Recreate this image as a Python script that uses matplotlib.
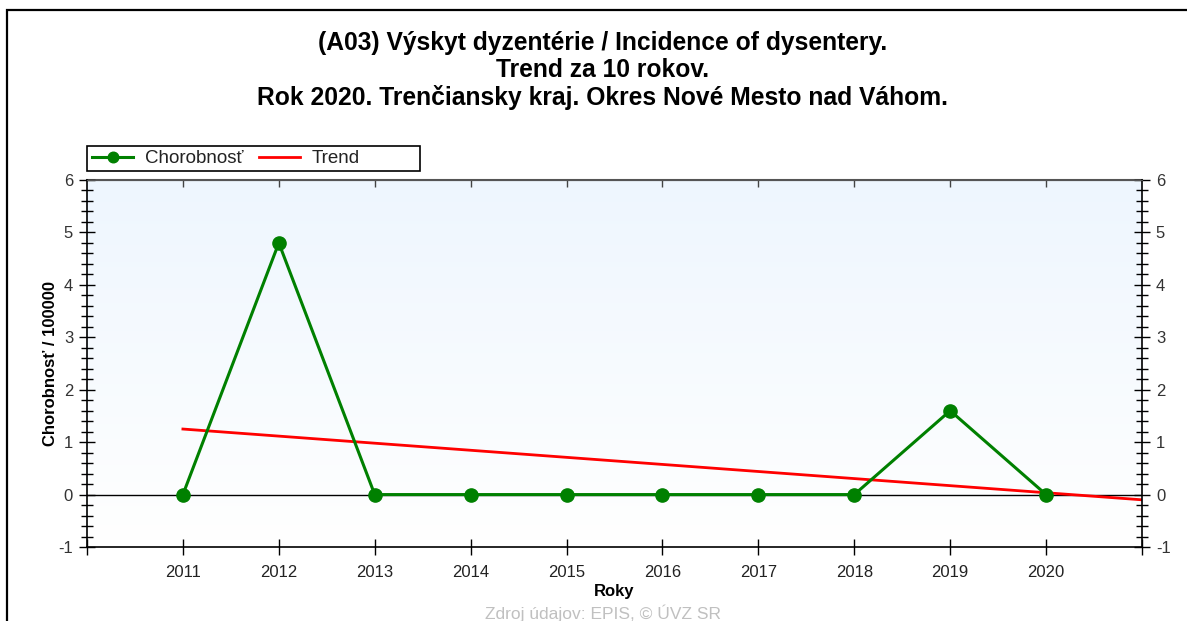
import numpy as np
import matplotlib.pyplot as plt
from matplotlib.patches import Rectangle

# Dáta odčítané z grafu
roky = [2011, 2012, 2013, 2014, 2015, 2016, 2017, 2018, 2019, 2020]
chorobnost = [0, 4.8, 0, 0, 0, 0, 0, 0, 1.6, 0]
trend_roky = [2011, 2021]
trend_hodnoty = [1.25, -0.1]

nadpis = ["(A03) Výskyt dyzentérie / Incidence of dysentery.",
          "Trend za 10 rokov.",
          "Rok 2020. Trenčiansky kraj. Okres Nové Mesto nad Váhom."]

plt.rcParams['font.family'] = ['Liberation Sans', 'DejaVu Sans']
plt.rcParams['axes.unicode_minus'] = False

W, H = 1187, 621
fig = plt.figure(figsize=(W / 100, H / 100), dpi=100)
fig.patch.set_facecolor('white')

# vonkajší rámik
fig.patches.append(Rectangle((7 / W, -0.1), 1.2, 1.1 - 10 / H, transform=fig.transFigure,
                             fill=False, edgecolor='black', lw=1.6, clip_on=False))

ax = fig.add_axes([87 / W, 1 - 547 / H, (1142 - 87) / W, (547 - 180) / H])
ax.set_xlim(2010, 2021)
ax.set_ylim(-1, 6)

# gradientové pozadie
grad = np.linspace(0, 1, 256).reshape(-1, 1)
top = np.array([238, 246, 254]) / 255
bot = np.array([255, 255, 255]) / 255
img = top * (1 - grad[..., None]) + bot * grad[..., None]
img = np.repeat(img, 2, axis=1)
ax.imshow(img, extent=[2010, 2021, -1, 6], aspect='auto', zorder=0, origin='upper')

ax.axhline(0, color='black', lw=1, zorder=1)

ax.plot(trend_roky, trend_hodnoty, color='#ff0000', lw=2, zorder=2, label='Trend')
ax.plot(roky, chorobnost, color='#008000', lw=2.2, marker='o', markersize=9.5,
        zorder=3, label='Chorobnosť')

# osi a značky
ax.set_xticks(range(2010, 2022))
ax.set_xticklabels([''] + [str(r) for r in roky] + [''])
ax.set_yticks(range(-1, 7))
ax.set_yticks(np.arange(-1, 6.01, 0.2), minor=True)
ax.tick_params(axis='y', which='major', direction='inout', length=12, width=1,
               left=True, right=True, labelleft=True, labelright=True,
               labelsize=12, labelcolor='#333333', pad=4)
ax.tick_params(axis='y', which='minor', direction='inout', length=8, width=1,
               left=True, right=True)
ax.tick_params(axis='x', which='major', direction='inout', length=12, width=1,
               labelsize=12, labelcolor='#222222', pad=7)

sec = ax.secondary_xaxis('top')
sec.set_xticks(roky)
sec.set_xticklabels([])
sec.tick_params(direction='in', length=5, width=1, color='#444444')
sec.spines['top'].set_color('#555555')
sec.spines['top'].set_linewidth(1.5)

for s in ['left', 'right', 'bottom']:
    ax.spines[s].set_linewidth(1.2)
ax.spines['top'].set_color('#555555')

ax.set_ylabel('Chorobnosť / 100000', fontsize=12, fontweight='bold', labelpad=0)
ax.set_xlabel('Roky', fontsize=12, fontweight='bold', labelpad=3)

# legenda
h, l = ax.get_legend_handles_labels()
fig.patches.append(Rectangle((87 / W, 1 - 171 / H), (420 - 87) / W, 25 / H,
                             transform=fig.transFigure, fill=False,
                             edgecolor='black', lw=1.2))
fig.legend([h[1], h[0]], [l[1], l[0]], loc='center left',
           bbox_to_anchor=(92 / W, 1 - 158.5 / H), ncol=2, frameon=False,
           fontsize=13.5, handlelength=2.2, columnspacing=0.8, handletextpad=0.64,
           borderpad=0, borderaxespad=0, labelcolor='#222222', markerscale=0.8)

# nadpis
for txt, yy in zip(nadpis, [43, 70, 98]):
    fig.text(603 / W, 1 - yy / H, txt, ha='center', va='center',
             fontsize=17.7, fontweight='bold')

fig.text(603 / W, 1 - 605 / H, 'Zdroj údajov: EPIS, © ÚVZ SR', ha='center', va='top',
         fontsize=12.5, color='#c0c0c0')

fig.savefig('out.png', dpi=100)
